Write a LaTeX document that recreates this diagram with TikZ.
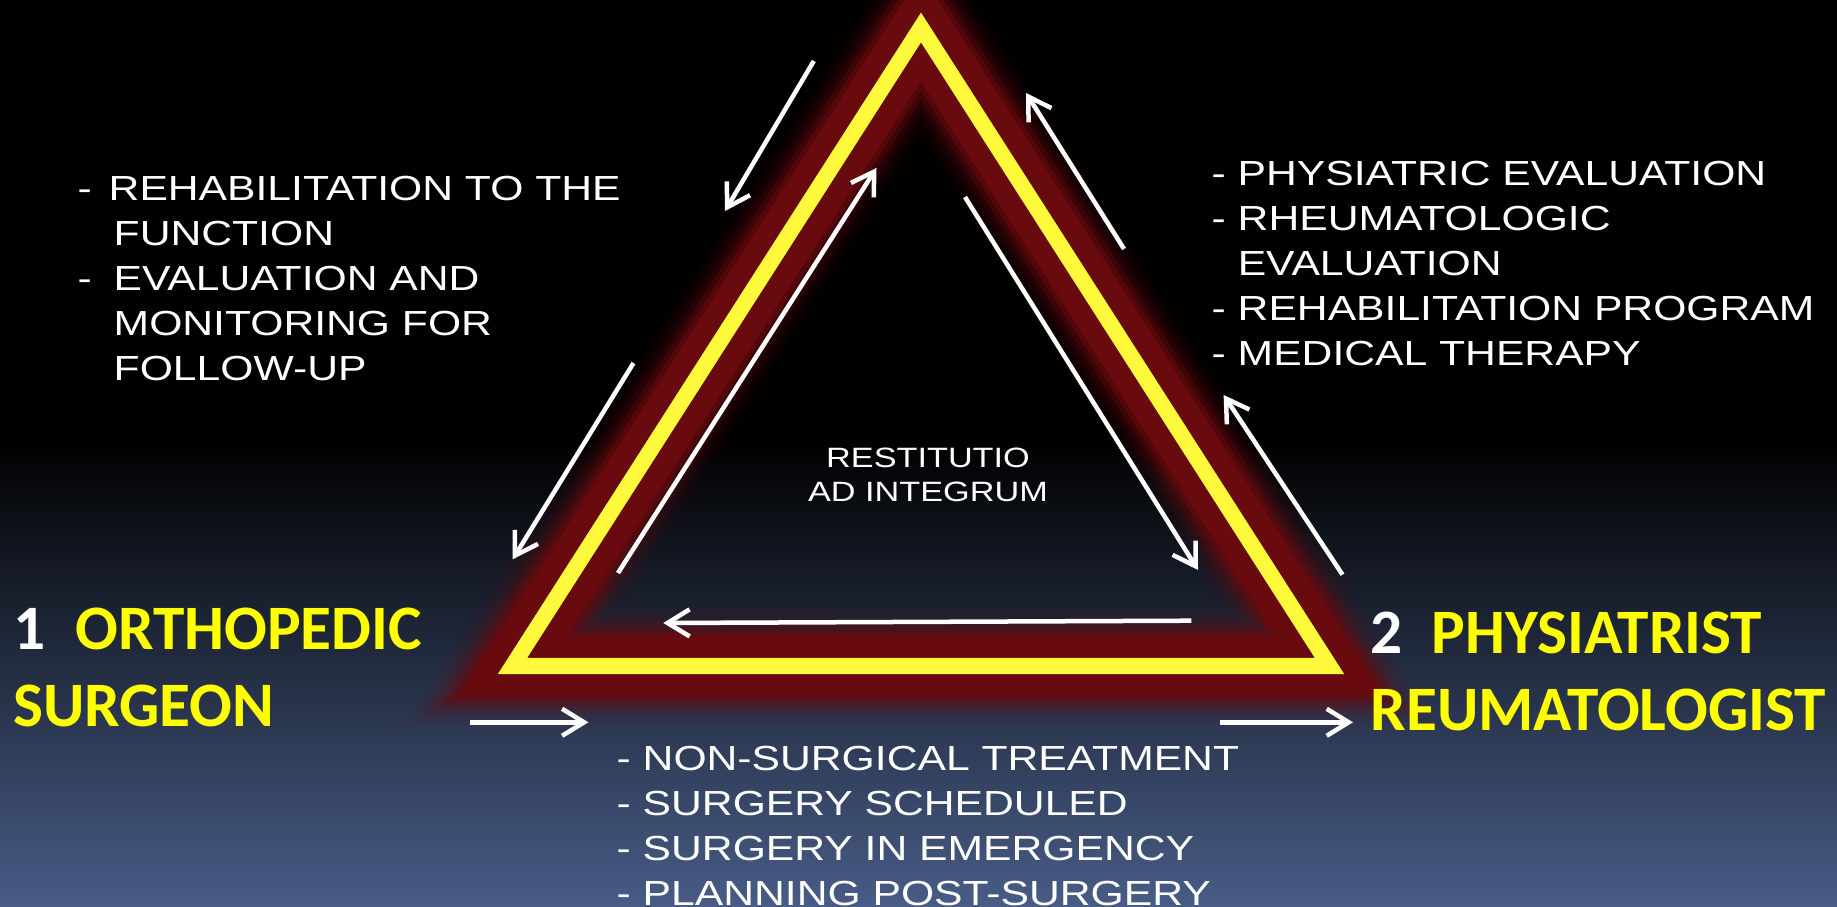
\documentclass[tikz,border=0pt]{standalone}
\usepackage{fontspec}
\setmainfont{Liberation Sans}[FakeStretch=1.225]
\newfontfamily\headfont{Carlito}
\usetikzlibrary{arrows.meta}
\definecolor{glowred}{RGB}{104,10,14}
\definecolor{tyellow}{RGB}{255,250,60}
\definecolor{hyellow}{RGB}{255,255,0}
\definecolor{bgmid}{RGB}{22,28,42}
\definecolor{bgbot}{RGB}{72,92,134}
\tikzset{
  flow/.style={draw=white, line width=0.045cm, -{Straight Barb[length=0.22cm,width=0.27cm]}},
  listtext/.style={text=white, inner sep=0pt, align=left, font=\fontsize{9.9pt}{0.45cm}\selectfont},
  heading/.style={text=hyellow, inner sep=0pt, align=left, font=\headfont\bfseries\fontsize{18pt}{0.775cm}\selectfont},
  glow/.style={draw=glowred, line join=miter},
}
\begin{document}
\begin{tikzpicture}[x=0.01cm, y=-0.01cm]
\useasboundingbox (0,0) rectangle (1837,907);
\clip (0,0) rectangle (1837,907);
% background
\fill[black] (0,0) rectangle (1837,907);
\shade[top color=black, middle color=bgmid, bottom color=bgbot] (0,440) rectangle (1837,907);
% triangle corners
\coordinate (A) at (921,27.5);
\coordinate (B) at (512.5,666);
\coordinate (C) at (1329.5,666);
% glow
\foreach \w/\o in {124/0.05, 110/0.08, 98/0.13, 88/0.2, 78/0.32, 68/0.55, 58/1} {
  \draw[glow, line width=\w*0.2845pt, opacity=\o] (A) -- (B) -- (C) -- cycle;
}
\draw[draw=tyellow, line width=16*0.2845pt, line join=miter] (A) -- (B) -- (C) -- cycle;
% arrow end points
\coordinate (a1s) at (813.8,61);    \coordinate (a1e) at (725,211);
\coordinate (a2s) at (618,573);     \coordinate (a2e) at (876.5,168);
\coordinate (a3s) at (633.5,363);   \coordinate (a3e) at (512.7,559.3);
\coordinate (a4s) at (1124,249);    \coordinate (a4e) at (1026,93);
\coordinate (a5s) at (965,197);     \coordinate (a5e) at (1198,570);
\coordinate (a6s) at (1342.5,574.7);\coordinate (a6e) at (1223.6,395);
\coordinate (a7s) at (1191.4,620.7);\coordinate (a7e) at (663.3,623);
\coordinate (a8s) at (470,722.3);   \coordinate (a8e) at (588.4,722.3);
\coordinate (a9s) at (1219.5,722.3);\coordinate (a9e) at (1353,722.3);
\foreach \i in {1,...,9} { \draw[flow] (a\i s) -- (a\i e); }
% texts
\node[listtext, anchor=north west] (leftlist) at (77,175)
  {\makebox[0.31cm][l]{-}REHABILITATION TO THE\\
   \hspace*{0.36cm}FUNCTION\\
   \makebox[0.36cm][l]{-}EVALUATION AND\\
   \hspace*{0.36cm}MONITORING FOR\\
   \hspace*{0.36cm}FOLLOW-UP};
\node[listtext, anchor=north west] (rightlist) at (1211,160)
  {- PHYSIATRIC EVALUATION\\
   - RHEUMATOLOGIC\\
   \phantom{- }EVALUATION\\
   - REHABILITATION PROGRAM\\
   - MEDICAL THERAPY};
\node[listtext, anchor=north west] (bottomlist) at (616,745)
  {- NON-SURGICAL TREATMENT\\
   - SURGERY SCHEDULED\\
   - SURGERY IN EMERGENCY\\
   - PLANNING POST-SURGERY};
\node[listtext, align=center, anchor=north, font=\fontsize{7.95pt}{0.345cm}\selectfont] (centre) at (928,447)
  {RESTITUTIO\\AD INTEGRUM};
\node[heading, anchor=north west] (ortho) at (12.5,607)
  {\textcolor{white}{1}\hspace{0.3cm}ORTHOPEDIC\\SURGEON};
\node[heading, anchor=north west] (phys) at (1370,611)
  {\textcolor{white}{2}\hspace{0.29cm}PHYSIATRIST\\REUMATOLOGIST};
\end{tikzpicture}
\end{document}
